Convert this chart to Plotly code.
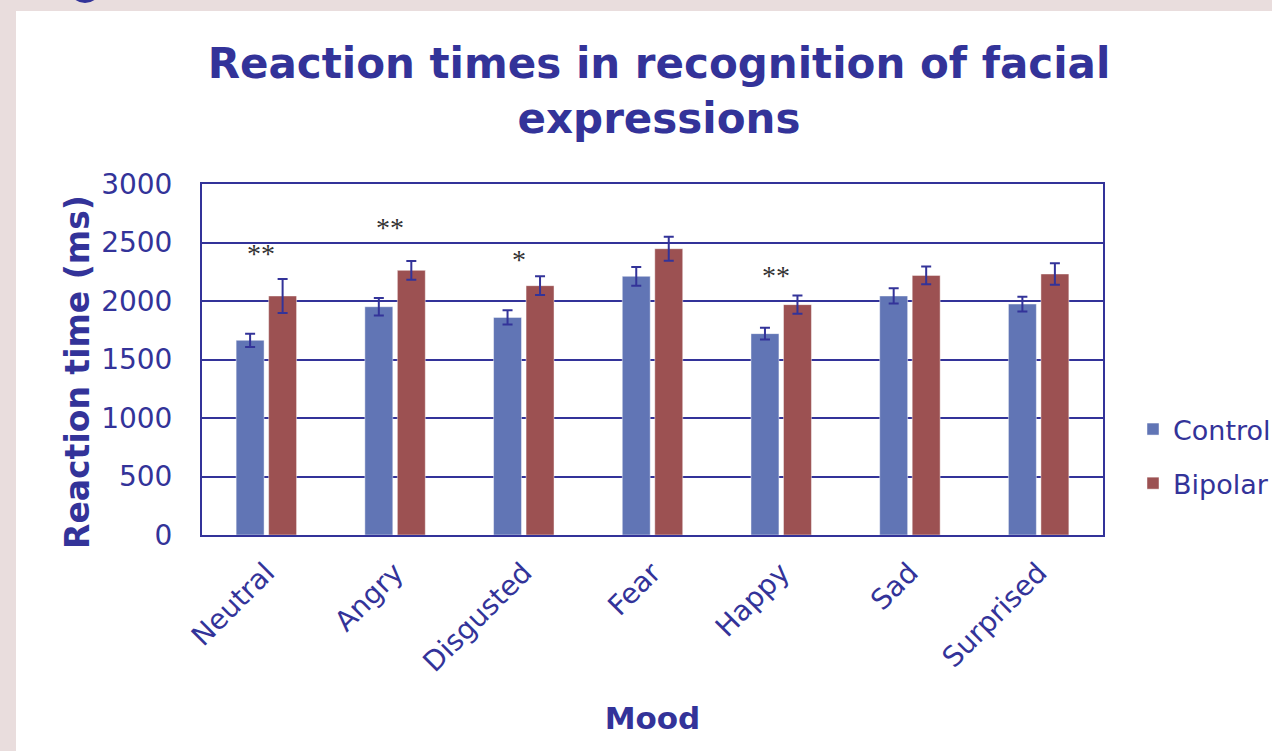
import plotly.graph_objects as go

moods = ["Neutral", "Angry", "Disgusted", "Fear", "Happy", "Sad", "Surprised"]
control = [1664, 1951, 1860, 2211, 1721, 2043, 1974]
control_err = [57, 75, 60, 80, 51, 65, 63]
bipolar = [2043, 2262, 2131, 2447, 1969, 2219, 2231]
bipolar_err = [145, 80, 80, 102, 77, 75, 92]
sig_moods = ["Neutral", "Angry", "Disgusted", "Happy"]
sig_labels = ["**", "**", "*", "**"]
sig_y = [2410, 2632, 2359, 2214]
y_ticks = [0, 500, 1000, 1500, 2000, 2500, 3000]

TXT = "#333399"
W, H = 1272, 751
L, R, T, B = 202, 1103, 184, 535

def px(x):
    return (x - L) / (R - L)

def py(y):
    return (B - y) / (B - T)

fig = go.Figure()
fig.add_trace(go.Bar(
    name="Control", x=moods, y=control, legendgroup="c",
    marker=dict(color="#6175B5", line=dict(color="rgba(255,255,255,0.45)", width=1)),
    error_y=dict(type="data", array=control_err, color=TXT, thickness=2, width=5),
))
fig.add_trace(go.Bar(
    name="Bipolar", x=moods, y=bipolar, legendgroup="b",
    marker=dict(color="#9C5152", line=dict(color="rgba(255,255,255,0.45)", width=1)),
    error_y=dict(type="data", array=bipolar_err, color=TXT, thickness=2, width=5),
))

for m, lab, yv in zip(sig_moods, sig_labels, sig_y):
    fig.add_annotation(x=m, y=yv, text=lab, showarrow=False, xshift=-5,
                       font=dict(family="Liberation Serif", size=28, color="#333333"),
                       yanchor="middle")

fig.add_annotation(xref="paper", yref="paper", x=px(77), y=py(372),
                   text="<b>Reaction time (ms)</b>", textangle=-90, showarrow=False,
                   xanchor="center", yanchor="middle",
                   font=dict(family="DejaVu Sans", size=33, color=TXT))

shapes = [
    dict(type="rect", xref="paper", yref="paper", x0=px(16), x1=px(W + 5), y0=py(11), y1=py(W),
         fillcolor="white", line=dict(width=0), layer="below"),
    dict(type="circle", xref="paper", yref="paper", x0=px(70), x1=px(100), y0=py(-24), y1=py(3),
         fillcolor=TXT, line=dict(width=0), layer="below"),
]

fig.update_layout(
    width=W, height=H,
    margin=dict(l=L, r=W - R, t=T, b=H - B, autoexpand=False),
    paper_bgcolor="#E9DDDD",
    plot_bgcolor="white",
    shapes=shapes,
    barmode="group", bargap=0.495, bargroupgap=0.14,
    font=dict(family="DejaVu Sans", color=TXT),
    title=dict(text="<b>Reaction times in recognition of facial<br>expressions</b>",
               x=659 / W, xref="container", xanchor="center",
               y=1 - 78 / H, yref="container", yanchor="top",
               font=dict(family="DejaVu Sans", size=42, color=TXT)),
    xaxis=dict(
        tickangle=-45, tickfont=dict(size=28, color=TXT), ticklabelstandoff=8,
        showline=True, linecolor=TXT, linewidth=2, mirror=True, ticks="",
        title=dict(text="<b>Mood</b>", font=dict(size=31, color=TXT), standoff=30),
    ),
    yaxis=dict(
        range=[0, 3000], tickvals=y_ticks, tickfont=dict(size=28, color=TXT),
        ticklabelstandoff=22,
        showgrid=True, gridcolor=TXT, gridwidth=2,
        showline=True, linecolor=TXT, linewidth=2, mirror=True, ticks="", zeroline=False,
    ),
    legend=dict(x=px(1133), y=py(405), xanchor="left", yanchor="top",
                font=dict(size=27, color=TXT), bgcolor="rgba(0,0,0,0)",
                itemwidth=30, tracegroupgap=16),
    showlegend=True,
)

fig.write_html("out.html")
